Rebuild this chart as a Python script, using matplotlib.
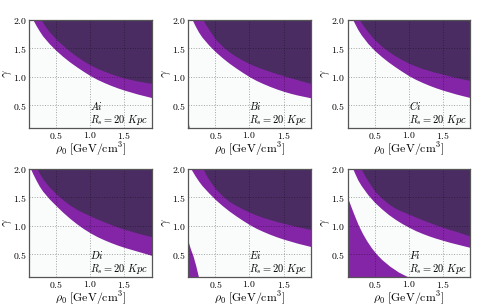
import matplotlib
matplotlib.use("Agg")
import matplotlib.pyplot as plt

plt.rcParams['mathtext.fontset'] = 'cm'
plt.rcParams['font.family'] = ['DejaVu Serif']

# axis ranges
rho_lim = (0.1, 1.9)
gamma_lim = (0.1, 2.0)
gamma_max = 2.0
gamma_min = 0.1

panel_labels = ["Ai", "Bi", "Ci", "Di", "Ei", "Fi"]

# boundaries (outer = white/purple, inner = purple/dark)
A_outer_x = [0.16, 0.2, 0.25, 0.3, 0.4, 0.5, 0.6, 0.7, 0.8, 0.9, 1.0, 1.1, 1.2, 1.3, 1.4, 1.5, 1.6, 1.7, 1.8, 1.9]
A_outer_y = [2.0, 1.91, 1.81, 1.72, 1.58, 1.46, 1.355, 1.26, 1.175, 1.095, 1.02, 0.955, 0.9, 0.85, 0.805, 0.765, 0.73, 0.695, 0.665, 0.635]
A_inner_x = [0.28, 0.3, 0.35, 0.4, 0.5, 0.6, 0.7, 0.8, 0.9, 1.0, 1.1, 1.2, 1.3, 1.4, 1.5, 1.6, 1.7, 1.8, 1.9]
A_inner_y = [2.0, 1.96, 1.87, 1.79, 1.66, 1.55, 1.45, 1.36, 1.28, 1.21, 1.15, 1.10, 1.055, 1.015, 0.98, 0.95, 0.925, 0.905, 0.885]

B_outer_x = [0.16, 0.2, 0.25, 0.3, 0.4, 0.5, 0.6, 0.7, 0.8, 0.9, 1.0, 1.1, 1.2, 1.3, 1.4, 1.5, 1.6, 1.7, 1.8, 1.9]
B_outer_y = [2.0, 1.9, 1.79, 1.70, 1.56, 1.44, 1.335, 1.24, 1.155, 1.075, 1.0, 0.935, 0.88, 0.83, 0.785, 0.745, 0.71, 0.68, 0.655, 0.63]
B_inner_x = [0.32, 0.35, 0.4, 0.5, 0.6, 0.7, 0.8, 0.9, 1.0, 1.1, 1.2, 1.3, 1.4, 1.5, 1.6, 1.7, 1.8, 1.9]
B_inner_y = [2.0, 1.93, 1.84, 1.66, 1.54, 1.44, 1.36, 1.29, 1.23, 1.18, 1.135, 1.095, 1.055, 1.02, 0.985, 0.95, 0.915, 0.885]
B_low_x = [0.1, 0.105, 0.115]
B_low_y = [0.22, 0.16, 0.1]

C_outer_x = [0.18, 0.2, 0.25, 0.3, 0.4, 0.5, 0.6, 0.7, 0.8, 0.9, 1.0, 1.1, 1.2, 1.3, 1.4, 1.5, 1.6, 1.7, 1.8, 1.9]
C_outer_y = [2.0, 1.95, 1.835, 1.74, 1.585, 1.46, 1.355, 1.26, 1.175, 1.095, 1.02, 0.955, 0.9, 0.85, 0.805, 0.765, 0.73, 0.695, 0.665, 0.635]
C_inner_x = [0.28, 0.3, 0.35, 0.4, 0.5, 0.6, 0.7, 0.8, 0.9, 1.0, 1.1, 1.2, 1.3, 1.4, 1.5, 1.6, 1.7, 1.8, 1.9]
C_inner_y = [2.0, 1.96, 1.87, 1.79, 1.65, 1.54, 1.45, 1.37, 1.30, 1.24, 1.19, 1.145, 1.11, 1.075, 1.045, 1.015, 0.985, 0.96, 0.935]

D_outer_x = [0.125, 0.15, 0.2, 0.25, 0.3, 0.4, 0.5, 0.6, 0.7, 0.8, 0.9, 1.0, 1.1, 1.2, 1.3, 1.4, 1.5, 1.6, 1.7, 1.8, 1.9]
D_outer_y = [2.0, 1.93, 1.81, 1.70, 1.61, 1.47, 1.35, 1.235, 1.13, 1.035, 0.95, 0.875, 0.81, 0.755, 0.705, 0.66, 0.62, 0.585, 0.55, 0.515, 0.48]
D_inner_x = [0.22, 0.25, 0.3, 0.4, 0.5, 0.6, 0.7, 0.8, 0.9, 1.0, 1.1, 1.2, 1.3, 1.4, 1.5, 1.6, 1.7, 1.8, 1.9]
D_inner_y = [2.0, 1.93, 1.83, 1.68, 1.56, 1.455, 1.365, 1.29, 1.23, 1.175, 1.12, 1.07, 1.025, 0.98, 0.94, 0.905, 0.87, 0.84, 0.81]

E_outer_x = [0.14, 0.2, 0.25, 0.3, 0.4, 0.5, 0.6, 0.7, 0.8, 0.9, 1.0, 1.1, 1.2, 1.3, 1.4, 1.5, 1.6, 1.7, 1.8, 1.9]
E_outer_y = [2.0, 1.88, 1.79, 1.71, 1.58, 1.46, 1.355, 1.26, 1.175, 1.095, 1.02, 0.955, 0.9, 0.85, 0.805, 0.765, 0.73, 0.695, 0.665, 0.635]
E_inner_x = [0.32, 0.35, 0.4, 0.5, 0.6, 0.7, 0.8, 0.9, 1.0, 1.1, 1.2, 1.3, 1.4, 1.5, 1.6, 1.7, 1.8, 1.9]
E_inner_y = [2.0, 1.92, 1.82, 1.65, 1.53, 1.43, 1.36, 1.295, 1.24, 1.19, 1.145, 1.11, 1.075, 1.045, 1.015, 0.985, 0.96, 0.935]
E_low_x = [0.1, 0.13, 0.17, 0.21, 0.25]
E_low_y = [0.72, 0.6, 0.47, 0.3, 0.1]

F_outer_x = [0.18, 0.2, 0.25, 0.3, 0.4, 0.5, 0.6, 0.7, 0.8, 0.9, 1.0, 1.1, 1.2, 1.3, 1.4, 1.5, 1.6, 1.7, 1.8, 1.9]
F_outer_y = [2.0, 1.94, 1.81, 1.71, 1.545, 1.41, 1.30, 1.2, 1.115, 1.04, 0.975, 0.915, 0.865, 0.82, 0.78, 0.745, 0.71, 0.68, 0.65, 0.62]
F_inner_x = [0.3, 0.35, 0.4, 0.5, 0.6, 0.7, 0.8, 0.9, 1.0, 1.1, 1.2, 1.3, 1.4, 1.5, 1.6, 1.7, 1.8, 1.9]
F_inner_y = [2.0, 1.89, 1.79, 1.61, 1.49, 1.39, 1.31, 1.255, 1.205, 1.155, 1.105, 1.06, 1.015, 0.975, 0.935, 0.9, 0.86, 0.82]
F_low_x = [0.1, 0.14, 0.18, 0.22, 0.26, 0.32, 0.38, 0.45, 0.52, 0.6, 0.72, 0.85, 0.99]
F_low_y = [1.5, 1.37, 1.245, 1.125, 1.01, 0.865, 0.74, 0.615, 0.51, 0.41, 0.29, 0.185, 0.1]

outer_x = [A_outer_x, B_outer_x, C_outer_x, D_outer_x, E_outer_x, F_outer_x]
outer_y = [A_outer_y, B_outer_y, C_outer_y, D_outer_y, E_outer_y, F_outer_y]
inner_x = [A_inner_x, B_inner_x, C_inner_x, D_inner_x, E_inner_x, F_inner_x]
inner_y = [A_inner_y, B_inner_y, C_inner_y, D_inner_y, E_inner_y, F_inner_y]
low_x = [None, B_low_x, None, None, E_low_x, F_low_x]
low_y = [None, B_low_y, None, None, E_low_y, F_low_y]

xticks = [0.5, 1.0, 1.5]
yticks = [0.5, 1.0, 1.5, 2.0]

c_purple = '#8424a6'
c_dark = '#4a2c62'
c_bg = '#fafcfc'

fig, axes = plt.subplots(2, 3, figsize=(5.0, 3.07), dpi=100)
fig.subplots_adjust(left=0.058, right=0.94, top=0.935, bottom=0.098, wspace=0.30, hspace=0.38)

for i, ax in enumerate(axes.flat):
    ax.set_facecolor(c_bg)
    ax.fill_between(outer_x[i], outer_y[i], gamma_max, color=c_purple, lw=0, zorder=1)
    ax.fill_between(inner_x[i], inner_y[i], gamma_max, color=c_dark, lw=0, zorder=2)
    if low_x[i] is not None:
        ax.fill_between(low_x[i], gamma_min, low_y[i], color=c_purple, lw=0, zorder=1)
    ax.set_xlim(*rho_lim)
    ax.set_ylim(*gamma_lim)
    ax.set_xticks(xticks)
    ax.set_yticks(yticks)
    ax.set_xticklabels(['$%.1f$' % t for t in xticks], fontsize=7)
    ax.set_yticklabels(['$%.1f$' % t for t in yticks], fontsize=7)
    ax.tick_params(length=0, pad=1.5)
    ax.grid(True, color='k', alpha=0.35, linestyle=':', lw=0.7, zorder=3)
    ax.set_axisbelow(False)
    for s in ax.spines.values():
        s.set_color('#555555')
        s.set_linewidth(0.9)
        s.set_zorder(4)
    ax.set_xlabel(r'$\rho_0\ [\mathrm{GeV/cm^3}]$', fontsize=8.5, labelpad=0)
    ax.set_ylabel(r'$\gamma$', fontsize=9)
    ax.yaxis.set_label_coords(-0.125, 0.5)
    ax.text(1.0, 0.41, '$%s$' % panel_labels[i], fontsize=7.5, va='baseline', zorder=5)
    ax.text(1.0, 0.19, r'$R_s = 20\ Kpc$', fontsize=7.5, va='baseline', zorder=5)

fig.savefig('out.png', dpi=100, facecolor='white')
